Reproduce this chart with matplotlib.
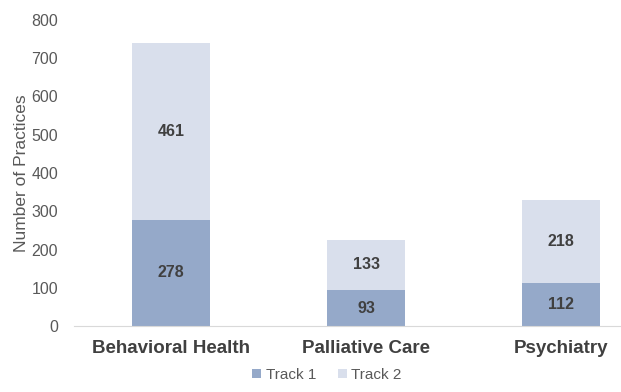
import matplotlib
matplotlib.use("Agg")
import matplotlib.pyplot as plt
import numpy as np

categories = ["Behavioral Health", "Palliative Care", "Psychiatry"]
track1 = [278, 93, 112]
track2 = [461, 133, 218]
yticks = [0, 100, 200, 300, 400, 500, 600, 700, 800]

plt.rcParams['font.family'] = ['Liberation Sans', 'DejaVu Sans']
c1 = "#95A9C9"
c2 = "#D9DFEC"
gray = "#595959"

fig = plt.figure(figsize=(6.21, 3.92), dpi=100)
ax = fig.add_axes([73.5/621, (392-326)/392, 585/621, (326-20)/392])
x = np.arange(len(categories))
b1 = ax.bar(x, track1, width=0.4, color=c1, label="Track 1")
b2 = ax.bar(x, track2, width=0.4, bottom=track1, color=c2, label="Track 2")
for i in range(len(categories)):
    ax.text(x[i], track1[i]/2, str(track1[i]), ha='center', va='center',
            fontsize=11.5, fontweight='bold', color="#404040")
    ax.text(x[i], track1[i] + track2[i]/2, str(track2[i]), ha='center', va='center',
            fontsize=11.5, fontweight='bold', color="#404040")
ax.set_xlim(-0.5, 2.5)
ax.set_ylim(0, 800)
ax.set_yticks(yticks)
ax.set_xticks(x)
ax.set_xticklabels(categories, fontsize=13.5, fontweight='bold', color="#404040")
ax.tick_params(axis='y', labelsize=11.5, colors=gray, length=0, pad=11)
ax.tick_params(axis='x', length=0, pad=10)
for s in ['top', 'right', 'left']:
    ax.spines[s].set_visible(False)
ax.spines['bottom'].set_color("#D9D9D9")
ax.set_ylabel("Number of Practices", fontsize=12.5, color=gray)
ax.yaxis.set_label_coords(-0.076, 0.5)
leg = fig.legend(handles=[b1, b2], loc='center', bbox_to_anchor=(327/621, 1-375/392),
                 ncol=2, frameon=False, fontsize=11, handlelength=0.6, handleheight=0.6,
                 handletextpad=0.3, columnspacing=1.4, labelcolor=gray)
fig.savefig("out.png", dpi=100)
